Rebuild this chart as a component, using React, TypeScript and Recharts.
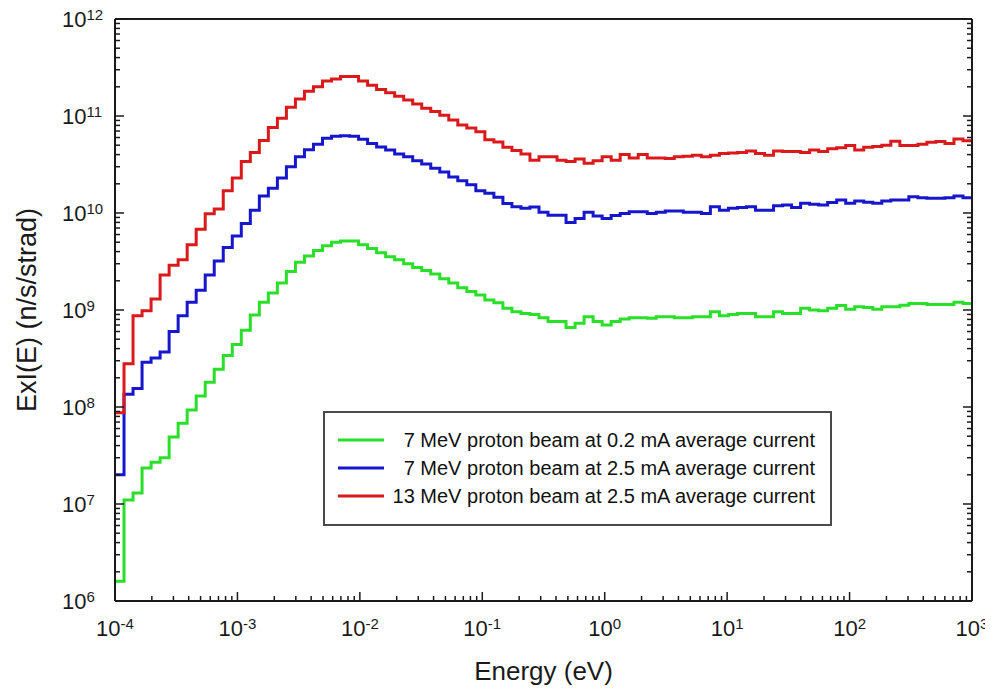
import React from "react";
import { LineChart, Line, XAxis, YAxis, Legend } from "recharts";

// histogram: 95 equal log bins from 1e-4 eV to 1e3 eV
const E_MIN = 1e-4;
const E_MAX = 1e3;
const BIN_COUNT = 95;

// ExI(E) per bin, n/s/strad
const GREEN_7MEV_02MA = [
  1.6e6, 1.1e7, 1.3e7, 2.35e7, 2.7e7, 3.0e7, 4.9e7, 6.8e7, 9.3e7, 1.3e8,
  1.8e8, 2.45e8, 3.4e8, 4.4e8, 6.2e8, 8.9e8, 1.2e9, 1.5e9, 1.9e9, 2.5e9,
  3.1e9, 3.6e9, 4.1e9, 4.6e9, 5.0e9, 5.15e9, 5.15e9, 4.7e9, 4.3e9, 3.9e9,
  3.55e9, 3.3e9, 3.0e9, 2.75e9, 2.55e9, 2.35e9, 2.1e9, 1.9e9, 1.7e9, 1.55e9,
  1.43e9, 1.27e9, 1.19e9, 1.04e9, 9.6e8, 9.2e8, 9.0e8, 8.3e8, 7.6e8, 7.6e8,
  6.6e8, 7.3e8, 8.5e8, 7.6e8, 7.0e8, 7.6e8, 8.1e8, 8.3e8, 8.3e8, 8.2e8,
  8.5e8, 8.5e8, 8.3e8, 8.3e8, 8.5e8, 8.5e8, 9.6e8, 8.7e8, 9.0e8, 9.2e8,
  9.2e8, 8.5e8, 8.5e8, 9.6e8, 9.2e8, 9.2e8, 1.04e9, 1.0e9, 9.8e8, 1.04e9,
  1.11e9, 1.02e9, 1.08e9, 1.06e9, 1.02e9, 1.08e9, 1.08e9, 1.12e9, 1.17e9, 1.17e9,
  1.14e9, 1.14e9, 1.14e9, 1.2e9, 1.17e9,
];

const BLUE_7MEV_25MA = [
  2.0e7, 1.35e8, 1.55e8, 2.9e8, 3.2e8, 3.7e8, 6.0e8, 8.7e8, 1.2e9, 1.6e9,
  2.3e9, 3.2e9, 4.4e9, 5.8e9, 7.8e9, 1.07e10, 1.5e10, 1.8e10, 2.3e10, 3.0e10,
  3.8e10, 4.5e10, 5.1e10, 5.9e10, 6.2e10, 6.25e10, 6.2e10, 5.75e10, 5.2e10, 4.8e10,
  4.45e10, 4.05e10, 3.8e10, 3.45e10, 3.2e10, 2.9e10, 2.65e10, 2.35e10, 2.15e10, 1.95e10,
  1.7e10, 1.6e10, 1.45e10, 1.25e10, 1.16e10, 1.12e10, 1.15e10, 1.02e10, 9.5e9, 9.5e9,
  8.0e9, 8.8e9, 1.02e10, 9.3e9, 8.8e9, 9.4e9, 9.9e9, 1.03e10, 1.03e10, 9.9e9,
  1.02e10, 1.05e10, 1.05e10, 1.02e10, 1.02e10, 9.9e9, 1.16e10, 1.07e10, 1.12e10, 1.14e10,
  1.16e10, 1.07e10, 1.07e10, 1.19e10, 1.21e10, 1.14e10, 1.26e10, 1.23e10, 1.21e10, 1.28e10,
  1.36e10, 1.26e10, 1.33e10, 1.29e10, 1.26e10, 1.33e10, 1.36e10, 1.36e10, 1.47e10, 1.44e10,
  1.42e10, 1.42e10, 1.44e10, 1.5e10, 1.44e10,
];

const RED_13MEV_25MA = [
  8.7e7, 2.8e8, 8.7e8, 9.8e8, 1.3e9, 2.3e9, 2.9e9, 3.3e9, 4.7e9, 6.8e9,
  9.8e9, 1.1e10, 1.7e10, 2.3e10, 3.4e10, 4.2e10, 5.6e10, 7.6e10, 9.5e10, 1.23e11,
  1.5e11, 1.8e11, 2.0e11, 2.3e11, 2.4e11, 2.55e11, 2.55e11, 2.3e11, 2.08e11, 1.88e11,
  1.74e11, 1.6e11, 1.46e11, 1.33e11, 1.2e11, 1.11e11, 1.02e11, 9.1e10, 8.1e10, 7.5e10,
  6.9e10, 5.7e10, 5.4e10, 4.75e10, 4.4e10, 4.05e10, 3.5e10, 3.8e10, 3.8e10, 3.5e10,
  3.4e10, 3.6e10, 3.25e10, 3.45e10, 3.8e10, 3.5e10, 4.0e10, 3.7e10, 4.0e10, 3.7e10,
  3.7e10, 3.65e10, 3.8e10, 3.85e10, 3.95e10, 3.8e10, 3.95e10, 4.1e10, 4.15e10, 4.2e10,
  4.35e10, 4.1e10, 3.95e10, 4.35e10, 4.3e10, 4.3e10, 4.2e10, 4.45e10, 4.3e10, 4.6e10,
  4.7e10, 4.95e10, 4.45e10, 4.75e10, 4.85e10, 5.0e10, 5.5e10, 4.95e10, 4.95e10, 5.1e10,
  5.35e10, 5.45e10, 5.2e10, 5.8e10, 5.55e10,
];

const SERIES = [
  { key: "green", name: "7 MeV proton beam at 0.2 mA average current", color: "#2ADF2A", values: GREEN_7MEV_02MA },
  { key: "blue", name: "7 MeV proton beam at 2.5 mA average current", color: "#1616CC", values: BLUE_7MEV_25MA },
  { key: "red", name: "13 MeV proton beam at 2.5 mA average current", color: "#DA1A1A", values: RED_13MEV_25MA },
];

const X_DECADES = [-4, -3, -2, -1, 0, 1, 2, 3];
const Y_DECADES = [6, 7, 8, 9, 10, 11, 12];
const MINOR_STEPS = [2, 3, 4, 5, 6, 7, 8, 9];

const FONT = "'Liberation Sans', Arial, Helvetica, sans-serif";
const INK = "#1a1a1a";

function logTicks(decades: number[]) {
  const out: number[] = [];
  decades.forEach((d, i) => {
    out.push(Math.pow(10, d));
    if (i < decades.length - 1) MINOR_STEPS.forEach((m) => out.push(m * Math.pow(10, d)));
  });
  return out;
}

const X_TICKS = logTicks(X_DECADES);
const Y_TICKS = logTicks(Y_DECADES);

// one row per bin start, plus the closing edge so stepAfter draws the last bin
const rows = Array.from({ length: BIN_COUNT + 1 }, (_, k) => {
  const i = Math.min(k, BIN_COUNT - 1);
  const e = k === BIN_COUNT ? E_MAX : E_MIN * Math.pow(E_MAX / E_MIN, k / BIN_COUNT);
  const row: Record<string, number> = { e };
  SERIES.forEach((s) => (row[s.key] = s.values[i]));
  return row;
});

type Side = "bottom" | "top" | "left" | "right";

function TickMark(props: any) {
  const { x, y, payload, side, label } = props as { x: number; y: number; payload: { value: number }; side: Side; label?: boolean };
  const lg = Math.log10(payload.value);
  const exp = Math.round(lg);
  const major = Math.abs(lg - exp) < 1e-6;
  const len = major ? 9 : 5;
  let x2 = x;
  let y2 = y;
  if (side === "bottom") y2 = y - len;
  if (side === "top") y2 = y + len;
  if (side === "left") x2 = x + len;
  if (side === "right") x2 = x - len;

  let text = null;
  if (label && major) {
    if (side === "bottom") {
      text = (
        <text x={x} y={y + 35} textAnchor="middle" fontFamily={FONT} fontSize={22} fill={INK}>
          10<tspan dy={-7} fontSize={15}>{exp}</tspan>
        </text>
      );
    } else {
      text = (
        <text x={x - 53} y={y + 8} textAnchor="start" fontFamily={FONT} fontSize={22} fill={INK}>
          10<tspan dy={-7} fontSize={15}>{exp}</tspan>
        </text>
      );
    }
  }
  return (
    <g>
      <line x1={x} y1={y} x2={x2} y2={y2} stroke={INK} strokeWidth={1.5} />
      {text}
    </g>
  );
}

function XTitle(props: any) {
  const { x, y, width } = props.viewBox;
  return (
    <text x={x + width / 2} y={y + 79} textAnchor="middle" fontFamily={FONT} fontSize={26} fill={INK}>
      Energy (eV)
    </text>
  );
}

function YTitle(props: any) {
  const { x, y, height } = props.viewBox;
  const cx = x - 8;
  const cy = y + height / 2;
  return (
    <text
      x={cx}
      y={cy}
      transform={`rotate(-90 ${cx} ${cy})`}
      textAnchor="middle"
      dominantBaseline="central"
      fontFamily={FONT}
      fontSize={27}
      fill={INK}
    >
      ExI(E) (n/s/strad)
    </text>
  );
}

function LegendBox() {
  return (
    <div
      style={{
        boxSizing: "border-box",
        width: 509,
        height: 115,
        border: "2px solid #4a4a4a",
        background: "#fff",
        paddingTop: 13,
        fontFamily: FONT,
        fontSize: 20,
        color: "#111",
      }}
    >
      {SERIES.map((s) => (
        <div key={s.key} style={{ display: "flex", alignItems: "center", height: 28 }}>
          <svg width={46} height={4} style={{ marginLeft: 13, flex: "none" }}>
            <line x1={0} y1={2} x2={46} y2={2} stroke={s.color} strokeWidth={3} />
          </svg>
          <span style={{ flex: 1, textAlign: "right", paddingRight: 15, whiteSpace: "nowrap" }}>{s.name}</span>
        </div>
      ))}
    </div>
  );
}

export default function App() {
  const axisLine = { stroke: INK, strokeWidth: 2 };
  // cancel the body margin so the chart fills the whole window
  return (
    <div style={{ margin: -8 }}>
      <LineChart width={993} height={693} data={rows} margin={{ top: 18, right: 20, left: 35, bottom: 32 }}>
        <XAxis
          dataKey="e"
          type="number"
          scale="log"
          domain={[E_MIN, E_MAX]}
          allowDataOverflow
          ticks={X_TICKS}
          interval={0}
          height={60}
          tickSize={0}
          tickMargin={0}
          tickLine={false}
          axisLine={axisLine}
          tick={(p: any) => <TickMark {...p} side="bottom" label />}
          label={<XTitle />}
        />
        <XAxis
          xAxisId="top"
          orientation="top"
          type="number"
          scale="log"
          domain={[E_MIN, E_MAX]}
          allowDataOverflow
          ticks={X_TICKS}
          interval={0}
          height={1}
          tickSize={0}
          tickMargin={0}
          tickLine={false}
          axisLine={axisLine}
          tick={(p: any) => <TickMark {...p} side="top" />}
        />
        <YAxis
          type="number"
          scale="log"
          domain={[1e6, 1e12]}
          allowDataOverflow
          ticks={Y_TICKS}
          interval={0}
          width={80}
          tickSize={0}
          tickMargin={0}
          tickLine={false}
          axisLine={axisLine}
          tick={(p: any) => <TickMark {...p} side="left" label />}
          label={<YTitle />}
        />
        <YAxis
          yAxisId="right"
          orientation="right"
          type="number"
          scale="log"
          domain={[1e6, 1e12]}
          allowDataOverflow
          ticks={Y_TICKS}
          interval={0}
          width={1}
          tickSize={0}
          tickMargin={0}
          tickLine={false}
          axisLine={axisLine}
          tick={(p: any) => <TickMark {...p} side="right" />}
        />
        {SERIES.map((s) => (
          <Line
            key={s.key}
            dataKey={s.key}
            name={s.name}
            type="stepAfter"
            stroke={s.color}
            strokeWidth={3}
            strokeLinejoin="miter"
            dot={false}
            activeDot={false}
            isAnimationActive={false}
          />
        ))}
        <Legend
          layout="horizontal"
          align="center"
          verticalAlign="middle"
          wrapperStyle={{ left: 323, top: 411, width: 509 }}
          content={() => <LegendBox />}
        />
      </LineChart>
    </div>
  );
}
